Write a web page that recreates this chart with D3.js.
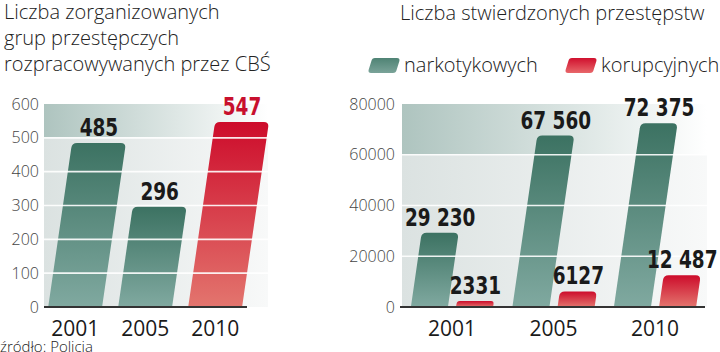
<!DOCTYPE html>
<html><head><meta charset="utf-8">
<script src="https://cdn.jsdelivr.net/npm/d3@7"></script>
<style>
html,body{margin:0;padding:0;background:#fff;}
svg{display:block;}
</style></head>
<body>
<svg id="chart" width="720" height="352"></svg>
<script>
// ---------- DATA ----------
const years = ["2001", "2005", "2010"];
const groupsCount = [485, 296, 547];
const highlightYear = "2010";
const leftTicks = [0, 100, 200, 300, 400, 500, 600];

const seriesNames = ["narkotykowych", "korupcyjnych"];
const narcotics = [29230, 67560, 72375];
const corruption = [2331, 6127, 12487];
const rightTicks = [0, 20000, 40000, 60000, 80000];

const leftTitle = ["Liczba zorganizowanych", "grup przestępczych", "rozpracowywanych przez CBŚ"];
const rightTitle = "Liczba stwierdzonych przestępstw";
const sourceText = "źródło: Policja";

// ---------- STYLE ----------
const lightFont = "'Open Sans', 'Liberation Sans', sans-serif";
const numFont = "'DejaVu Sans Condensed', 'DejaVu Sans', sans-serif";
const NUM_SX = 0.82;   // horizontal squeeze of value labels
const K = 0.145;       // slant of bars
const R = 5;           // corner radius

const svg = d3.select("#chart");
const defs = svg.append("defs");

function vGrad(id, top, bottom) {
  const g = defs.append("linearGradient").attr("id", id)
    .attr("x1", 0).attr("y1", 0).attr("x2", 0).attr("y2", 1);
  g.append("stop").attr("offset", 0).attr("stop-color", top);
  g.append("stop").attr("offset", 1).attr("stop-color", bottom);
}
function hGrad(id, left, right) {
  const g = defs.append("linearGradient").attr("id", id)
    .attr("x1", 0).attr("y1", 0).attr("x2", 1).attr("y2", 0);
  g.append("stop").attr("offset", 0).attr("stop-color", left);
  g.append("stop").attr("offset", 1).attr("stop-color", right);
}
vGrad("gGreen", "#3c7262", "#80a9a0");
vGrad("gRed", "#cd0c2b", "#e3756e");
vGrad("gGreenLeg", "#4f8374", "#7aa399");
vGrad("gRedLeg", "#d0102e", "#e8676a");
hGrad("bgTop", "#aec4bf", "#ffffff");
hGrad("bgLow", "#dbe2e1", "#f8f9f9");

function barPath(x0, w, yb, yt) {
  const s = K * (yb - yt);
  const r = Math.min(R, (yb - yt) / 2, w / 2);
  const xl = x0 + s, xr = x0 + s + w;
  return `M${x0},${yb}L${xl - K * r},${yt + r}Q${xl},${yt} ${xl + r},${yt}` +
         `L${xr - r},${yt}Q${xr},${yt} ${xr - K * r},${yt + r}L${x0 + w},${yb}Z`;
}
const fmt = v => v >= 10000 ? d3.format(",")(v).replace(/,/g, " ") : String(v);

function valueLabels(sel, xf, yf, colorf) {
  sel.attr("class", "val")
    .attr("transform", d => `translate(${xf(d)},${yf(d) - 7}) scale(${NUM_SX},1)`)
    .attr("text-anchor", "middle").attr("font-family", numFont).attr("font-weight", "bold").attr("font-size", 25)
    .attr("fill", colorf)
    .text(d => fmt(d.value));
}

// ---------- LEFT CHART ----------
const yL = d3.scaleLinear().domain([0, 600]).range([307, 104]);
const xL = d3.scaleBand().domain(years).range([44, 246.3]).paddingInner(0.23).paddingOuter(0.06);
const L = svg.append("g");

L.append("rect").attr("x", 44).attr("y", yL(600)).attr("width", 224).attr("height", yL(500) - yL(600)).attr("fill", "url(#bgTop)");
L.append("rect").attr("x", 44).attr("y", yL(500)).attr("width", 224).attr("height", yL(0) - yL(500)).attr("fill", "url(#bgLow)");

const leftData = years.map((y, i) => ({year: y, value: groupsCount[i]}));
L.selectAll("path.bar").data(leftData).join("path").attr("class", "bar")
  .attr("d", d => barPath(xL(d.year), xL.bandwidth(), yL(0), yL(d.value)))
  .attr("fill", d => d.year === highlightYear ? "url(#gRed)" : "url(#gGreen)");

L.selectAll("line.grid").data(leftTicks.filter(t => t > 0 && t < 600)).join("line").attr("class", "grid")
  .attr("x1", 44).attr("x2", 268).attr("y1", d => yL(d)).attr("y2", d => yL(d))
  .attr("stroke", "#fff").attr("stroke-width", 1.6).attr("stroke-opacity", 0.9);

L.append("line").attr("x1", 44).attr("x2", 247).attr("y1", yL(0)).attr("y2", yL(0))
  .attr("stroke", "#333").attr("stroke-width", 2);

const axL = L.append("g").attr("transform", "translate(44,0)")
  .call(d3.axisLeft(yL).tickValues(leftTicks).tickSize(0).tickPadding(5).tickFormat(d3.format("d")));
axL.select(".domain").remove();
axL.selectAll("text").attr("font-family", lightFont).attr("font-size", 16).attr("font-weight", 300).attr("fill", "#444");

const axLB = L.append("g").attr("transform", "translate(0,336)")
  .call(d3.axisBottom(xL).tickSize(0).tickPadding(0));
axLB.select(".domain").remove();
axLB.selectAll("text").attr("dy", 0).attr("font-family", lightFont).attr("font-size", 21).attr("fill", "#1a1a1a");

L.selectAll("text.val").data(leftData).join("text")
  .call(valueLabels,
    d => xL(d.year) + K * (yL(0) - yL(d.value)) + xL.bandwidth() / 2,
    d => yL(d.value),
    d => d.year === highlightYear ? "#c8102e" : "#1a1a1a");

const tL = svg.append("text").attr("font-family", lightFont).attr("font-weight", 300).attr("font-size", 20).attr("fill", "#222");
leftTitle.forEach((line, i) => tL.append("tspan").attr("x", 4).attr("y", 19 + i * 26).text(line));

svg.append("text").attr("x", 0).attr("y", 352).attr("font-family", lightFont).attr("font-weight", 300)
  .attr("font-size", 15).attr("fill", "#222").text(sourceText);

// ---------- RIGHT CHART ----------
const yR = d3.scaleLinear().domain([0, 80000]).range([307, 104]);
const x0 = d3.scaleBand().domain(years).range([402, 705]).paddingInner(0.19).paddingOuter(0.0875);
const x1 = d3.scaleBand().domain(seriesNames).range([0, x0.bandwidth()]).paddingInner(0.18);
const Rg = svg.append("g");

Rg.append("rect").attr("x", 402).attr("y", yR(80000)).attr("width", 305).attr("height", yR(60000) - yR(80000)).attr("fill", "url(#bgTop)");
Rg.append("rect").attr("x", 402).attr("y", yR(60000)).attr("width", 305).attr("height", yR(0) - yR(60000)).attr("fill", "url(#bgLow)");

const rightData = [];
years.forEach((y, i) => {
  rightData.push({year: y, series: seriesNames[0], value: narcotics[i]});
  rightData.push({year: y, series: seriesNames[1], value: corruption[i]});
});
const seriesFill = {narkotykowych: "url(#gGreen)", korupcyjnych: "url(#gRed)"};

Rg.selectAll("path.bar").data(rightData).join("path").attr("class", "bar")
  .attr("d", d => barPath(x0(d.year) + x1(d.series), x1.bandwidth(), yR(0), yR(d.value)))
  .attr("fill", d => seriesFill[d.series]);

Rg.selectAll("line.grid").data(rightTicks.filter(t => t > 0 && t < 80000)).join("line").attr("class", "grid")
  .attr("x1", 402).attr("x2", 707).attr("y1", d => yR(d)).attr("y2", d => yR(d))
  .attr("stroke", "#fff").attr("stroke-width", 1.6).attr("stroke-opacity", 0.9);

Rg.append("line").attr("x1", 400).attr("x2", 705).attr("y1", yR(0)).attr("y2", yR(0))
  .attr("stroke", "#333").attr("stroke-width", 2);

const axR = Rg.append("g").attr("transform", "translate(402,0)")
  .call(d3.axisLeft(yR).tickValues(rightTicks).tickSize(0).tickPadding(7).tickFormat(d3.format("d")));
axR.select(".domain").remove();
axR.selectAll("text").attr("font-family", lightFont).attr("font-size", 16).attr("font-weight", 300).attr("fill", "#444");

const axRB = Rg.append("g").attr("transform", "translate(0,336)")
  .call(d3.axisBottom(x0).tickSize(0).tickPadding(0));
axRB.select(".domain").remove();
axRB.selectAll("text").attr("dy", 0).attr("font-family", lightFont).attr("font-size", 21).attr("fill", "#1a1a1a");

Rg.selectAll("text.val").data(rightData).join("text")
  .call(valueLabels,
    d => x0(d.year) + x1(d.series) + K * (yR(0) - yR(d.value)) + x1.bandwidth() / 2,
    d => yR(d.value),
    () => "#1a1a1a");

svg.append("text").attr("x", 400).attr("y", 20).attr("font-family", lightFont).attr("font-weight", 300)
  .attr("font-size", 20).attr("fill", "#222").text(rightTitle);

// legend
const legX = {narkotykowych: 368, korupcyjnych: 565};
const legFill = {narkotykowych: "url(#gGreenLeg)", korupcyjnych: "url(#gRedLeg)"};
const leg = svg.append("g").selectAll("g").data(seriesNames).join("g")
  .attr("transform", d => `translate(${legX[d]},0)`);
leg.append("path").attr("d", () => {
  const yb = 73, yt = 58, w = 28, s = 4, r = 3;
  return `M${0 + r},${yb}Q0,${yb} ${0.6},${yb - r}L${s - 0.6},${yt + r}Q${s},${yt} ${s + r},${yt}` +
         `L${s + w - r},${yt}Q${s + w},${yt} ${s + w - 0.6},${yt + r}L${w + 0.6},${yb - r}Q${w},${yb} ${w - r},${yb}Z`;
}).attr("fill", d => legFill[d]);
leg.append("text").attr("x", 36).attr("y", 72).attr("font-family", lightFont).attr("font-weight", 300)
  .attr("font-size", 20).attr("fill", "#222").text(d => d);
</script>
</body></html>
